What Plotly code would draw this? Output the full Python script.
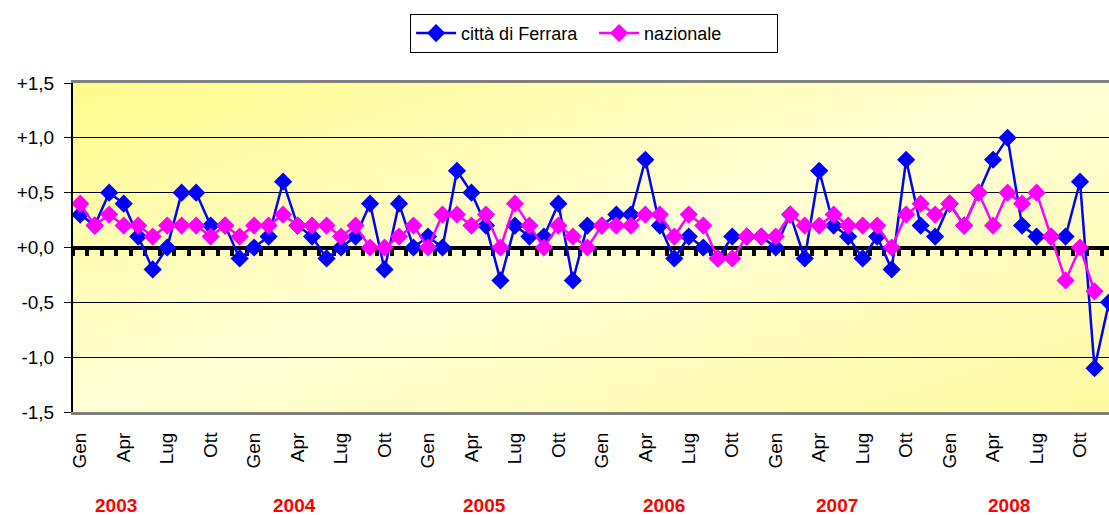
import base64
import plotly.graph_objects as go

# ---- data ----
months = ["Gen", "Feb", "Mar", "Apr", "Mag", "Giu", "Lug", "Ago", "Set", "Ott", "Nov", "Dic"]
years = ["2003", "2004", "2005", "2006", "2007", "2008"]
categories = [f"{m} {y}" for y in years for m in months]

ferrara = [
    0.3, 0.2, 0.5, 0.4, 0.1, -0.2, 0.0, 0.5, 0.5, 0.2, 0.2, -0.1,
    0.0, 0.1, 0.6, 0.2, 0.1, -0.1, 0.0, 0.1, 0.4, -0.2, 0.4, 0.0,
    0.1, 0.0, 0.7, 0.5, 0.2, -0.3, 0.2, 0.1, 0.1, 0.4, -0.3, 0.2,
    0.2, 0.3, 0.3, 0.8, 0.2, -0.1, 0.1, 0.0, -0.1, 0.1, 0.1, 0.1,
    0.0, 0.3, -0.1, 0.7, 0.2, 0.1, -0.1, 0.1, -0.2, 0.8, 0.2, 0.1,
    0.4, 0.2, 0.5, 0.8, 1.0, 0.2, 0.1, 0.1, 0.1, 0.6, -1.1, -0.5,
]
nazionale = [
    0.4, 0.2, 0.3, 0.2, 0.2, 0.1, 0.2, 0.2, 0.2, 0.1, 0.2, 0.1,
    0.2, 0.2, 0.3, 0.2, 0.2, 0.2, 0.1, 0.2, 0.0, 0.0, 0.1, 0.2,
    0.0, 0.3, 0.3, 0.2, 0.3, 0.0, 0.4, 0.2, 0.0, 0.2, 0.1, 0.0,
    0.2, 0.2, 0.2, 0.3, 0.3, 0.1, 0.3, 0.2, -0.1, -0.1, 0.1, 0.1,
    0.1, 0.3, 0.2, 0.2, 0.3, 0.2, 0.2, 0.2, 0.0, 0.3, 0.4, 0.3,
    0.4, 0.2, 0.5, 0.2, 0.5, 0.4, 0.5, 0.1, -0.3, 0.0, -0.4,
]
tick_months = ["Gen", "Apr", "Lug", "Ott"]
y_tickvals = [-1.5, -1.0, -0.5, 0.0, 0.5, 1.0, 1.5]
y_ticktext = ["-1,5", "-1,0", "-0,5", "+0,0", "+0,5", "+1,0", "+1,5"]
year_label_pos = [2.5, 14.8, 27.9, 40.3, 52.2, 64.1]

# ---- figure ----
n = len(categories)
idx = list(range(n))
FONT = "Liberation Sans, Arial, sans-serif"

fig = go.Figure()
fig.add_trace(go.Scatter(
    x=idx, y=ferrara, name="città di Ferrara", mode="lines+markers",
    line=dict(color="#0000FF", width=2.5),
    marker=dict(symbol="diamond", size=14, color="#0000FF"),
    xaxis="x2", yaxis="y", cliponaxis=True,
))
fig.add_trace(go.Scatter(
    x=idx[:len(nazionale)], y=nazionale, name="nazionale", mode="lines+markers",
    line=dict(color="#FF00FF", width=2.5),
    marker=dict(symbol="diamond", size=14, color="#FF00FF"),
    xaxis="x2", yaxis="y", cliponaxis=True,
))
# empty trace so the main x axis subplot exists
fig.add_trace(go.Scatter(x=[None], y=[None], xaxis="x", yaxis="y",
                         showlegend=False, hoverinfo="skip"))

xr = [-0.5, n - 1]
tickvals = [i for i in idx if months[i % 12] in tick_months]
ticktext = [months[i % 12] for i in tickvals]

svg = ("<svg xmlns='http://www.w3.org/2000/svg' width='100' height='100' "
       "viewBox='0 0 100 100' preserveAspectRatio='none'><defs>"
       "<linearGradient id='g' x1='0' y1='0' x2='1' y2='1'>"
       "<stop offset='0' stop-color='#FFFA8C'/>"
       "<stop offset='0.5' stop-color='#FFFFD6'/>"
       "<stop offset='1' stop-color='#FFFAA0'/>"
       "</linearGradient></defs><rect width='100' height='100' fill='url(#g)'/></svg>")
svg_uri = "data:image/svg+xml;base64," + base64.b64encode(svg.encode()).decode()

annotations = [
    dict(x=xp, y=-0.283, xref="x", yref="paper", text=f"<b>{yr}</b>", showarrow=False,
         font=dict(family=FONT, size=19, color="#FF0000"), xanchor="center", yanchor="middle")
    for xp, yr in zip(year_label_pos, years)
]

fig.update_layout(
    width=1109, height=515,
    margin=dict(l=73, r=0, t=83, b=103),
    paper_bgcolor="white",
    plot_bgcolor="rgba(0,0,0,0)",
    font=dict(family=FONT, size=19, color="black"),
    showlegend=True,
    legend=dict(orientation="h", x=0.503, y=1.21, xanchor="center", yanchor="top",
                bordercolor="black", borderwidth=1, bgcolor="white",
                font=dict(family=FONT, size=18), itemwidth=40,
                entrywidth=128, entrywidthmode="pixels",
                tracegroupgap=0),
    images=[dict(source=svg_uri, xref="paper", yref="paper", x=0, y=1,
                 sizex=1, sizey=1, xanchor="left", yanchor="top",
                 sizing="stretch", layer="below")],
    xaxis=dict(range=xr, tickmode="array", tickvals=tickvals, ticktext=ticktext,
               tickangle=-90, ticks="", showgrid=False, zeroline=False,
               showline=True, linecolor="#808080", linewidth=3, mirror=True,
               ticklabelstandoff=10,
               tickfont=dict(family=FONT, size=19, color="black")),
    xaxis2=dict(range=xr, overlaying="x", anchor="free", position=0.5, side="bottom",
                tickmode="array", tickvals=[i - 0.5 for i in range(n + 1)],
                showticklabels=False, ticks="outside", ticklen=6, tickwidth=4,
                tickcolor="black", showline=True, linecolor="black", linewidth=4,
                showgrid=False, zeroline=False, layer="below traces"),
    yaxis=dict(range=[-1.5, 1.5], tickmode="array", tickvals=y_tickvals,
               ticktext=y_ticktext, ticks="outside", ticklen=7, tickcolor="black",
               showgrid=True, gridcolor="#000000", gridwidth=1, zeroline=False,
               showline=True, linecolor="black", linewidth=2,
               ticklabelstandoff=6,
               tickfont=dict(family=FONT, size=19, color="black")),
    annotations=annotations,
)

fig.write_html(
    "out.html",
    config={"displayModeBar": False},
    post_script="document.body.style.margin='0';document.body.style.overflow='hidden';",
)
